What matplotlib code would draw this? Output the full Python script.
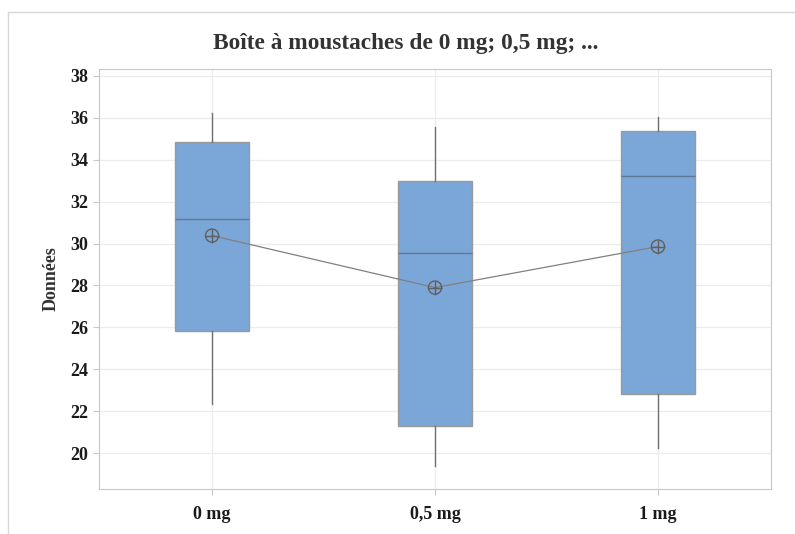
import matplotlib
matplotlib.use("Agg")
import matplotlib.pyplot as plt
from matplotlib.lines import Line2D

# valeurs
GROUPS = ["0 mg", "0,5 mg", "1 mg"]
WHISK_LO = [22.33, 19.38, 20.24]
Q1 = [25.81, 21.29, 22.81]
MEDIAN = [31.19, 29.57, 33.24]
Q3 = [34.86, 33.00, 35.38]
WHISK_HI = [36.24, 35.57, 36.05]
MEANS = [30.38, 27.90, 29.86]
YTICKS = [20, 22, 24, 26, 28, 30, 32, 34, 36, 38]

BOX = "#7BA6D8"
EDGE = "#9a9a9a"
GRID = "#ececec"
SPINE = "#c8c8c8"
INK = "#1a1a1a"

plt.rcParams["font.family"] = ["Liberation Serif", "DejaVu Serif"]

fig = plt.figure(figsize=(7.95, 5.34), dpi=100)
ax = fig.add_axes([99 / 795, 1 - 489 / 534, (771 - 99) / 795, (489 - 69) / 534])

stats = []
for i, g in enumerate(GROUPS):
    stats.append({"label": g, "whislo": WHISK_LO[i], "q1": Q1[i], "med": MEDIAN[i],
                  "q3": Q3[i], "whishi": WHISK_HI[i], "fliers": []})
pos = list(range(1, len(GROUPS) + 1))
ax.bxp(stats, positions=pos, widths=0.336, patch_artist=True, showcaps=False,
       boxprops=dict(facecolor=BOX, edgecolor=EDGE, linewidth=1.0),
       medianprops=dict(color="#5f7896", linewidth=1.0),
       whiskerprops=dict(color="#707070", linewidth=1.0), zorder=3)

ax.plot(pos, MEANS, "-", color="#808080", lw=0.9, zorder=4)
ax.scatter(pos, MEANS, s=90, marker="o", facecolor="none", edgecolor="#606060",
           linewidths=1.0, zorder=5)
ax.scatter(pos, MEANS, s=90, marker="+", color="#606060", linewidths=1.0, zorder=5)

ax.set_xlim(0.493, 3.507)
ax.set_ylim(18.29, 38.33)
ax.set_yticks(YTICKS)
ax.set_xticks(pos)
ax.set_xticklabels(GROUPS)
ax.grid(True, color=GRID, lw=0.9, zorder=0)
ax.set_axisbelow(True)
for s in ax.spines.values():
    s.set_color(SPINE)
ax.tick_params(colors=SPINE, labelcolor=INK, length=4, labelsize=13)
for lab in ax.get_xticklabels() + ax.get_yticklabels():
    lab.set_fontweight("bold")
ax.tick_params(axis="x", pad=8)
ax.set_ylabel("Données", fontsize=13, fontweight="bold", color="#333333", labelpad=8)
fig.text(406 / 795, 1 - 44 / 534, "Boîte à moustaches de 0 mg; 0,5 mg; ...",
         ha="center", va="center", fontsize=16.8, fontweight="bold", color="#333333")

# cadre extérieur
fig.add_artist(Line2D([8 / 795, 8 / 795], [0, 1 - 12 / 534], color="#d8d8d8", lw=1))
fig.add_artist(Line2D([8 / 795, 1], [1 - 12 / 534, 1 - 12 / 534], color="#d8d8d8", lw=1))

fig.savefig("out.png", dpi=100, facecolor="white")
